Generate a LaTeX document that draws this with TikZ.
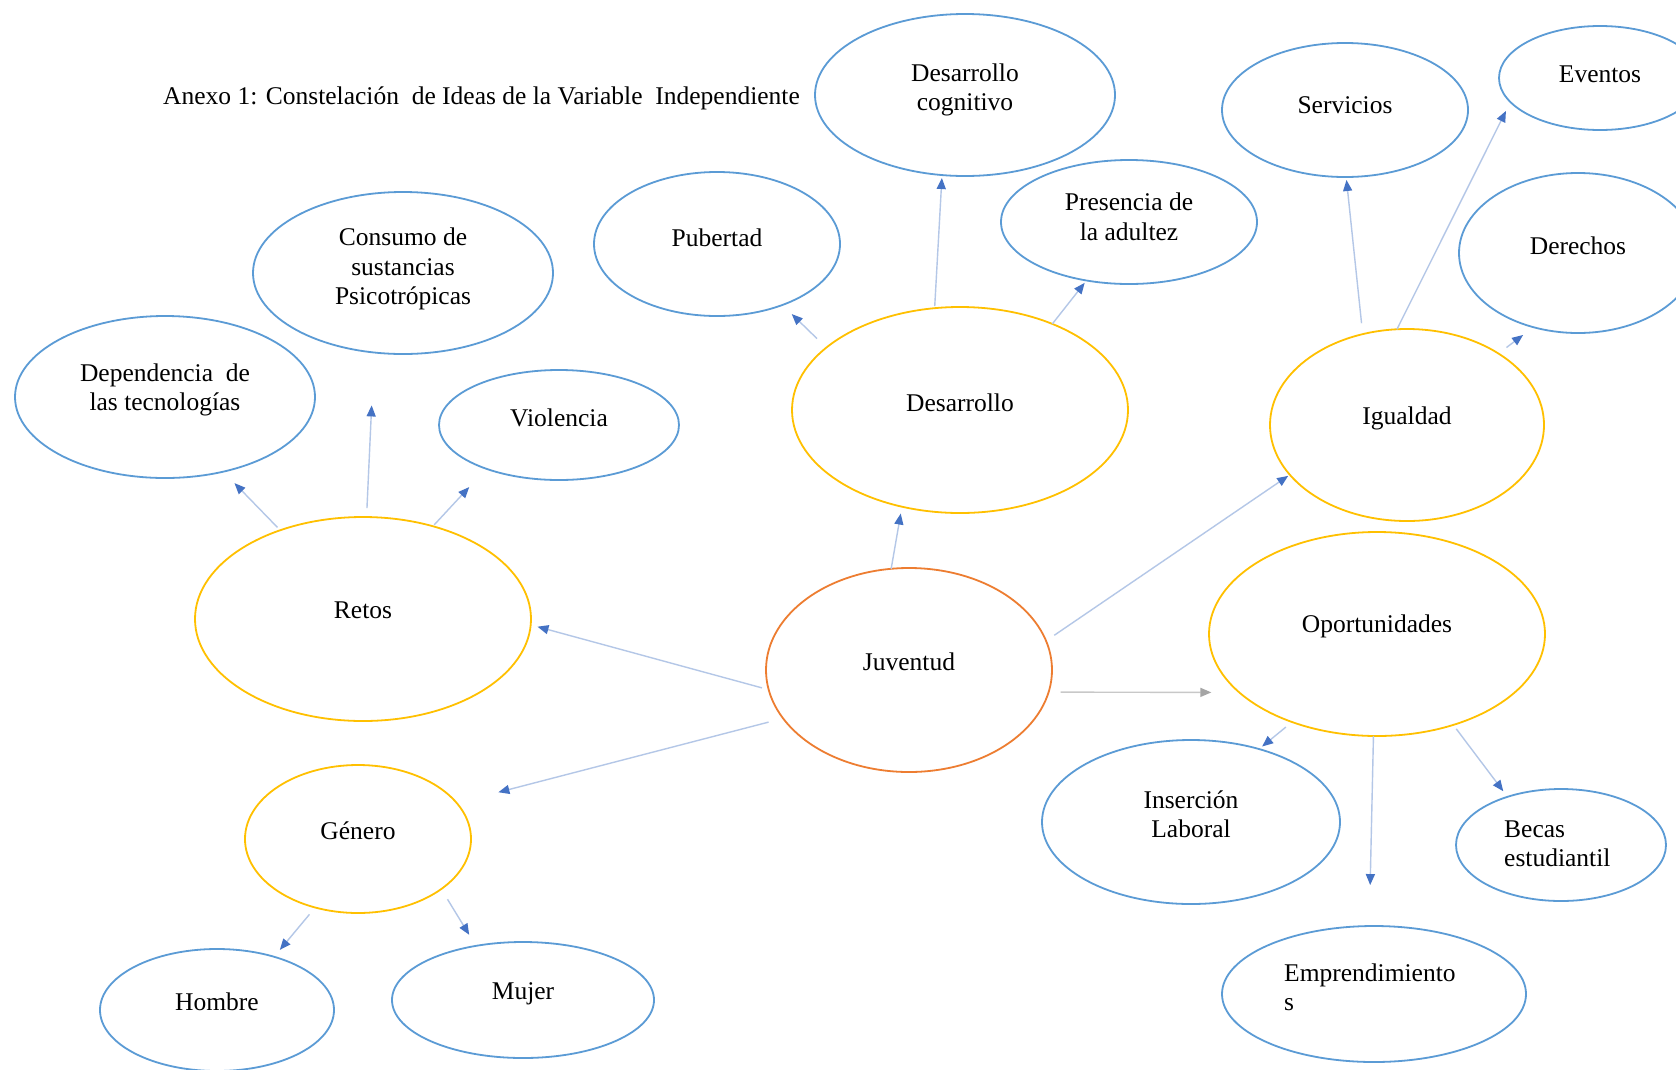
\documentclass[tikz,border=0pt]{standalone}
\usepackage{fontspec}
\setmainfont{Liberation Serif}
\usetikzlibrary{shapes.geometric,arrows.meta}
\definecolor{eblue}{RGB}{91,155,213}
\definecolor{eyellow}{RGB}{255,192,0}
\definecolor{eorange}{RGB}{237,125,49}
\definecolor{linec}{RGB}{180,199,231}
\definecolor{headc}{RGB}{68,114,196}
\definecolor{glinec}{RGB}{200,200,200}
\definecolor{gheadc}{RGB}{165,165,165}
\begin{document}
\begin{tikzpicture}[x=1pt,y=-1pt,
  ell/.style={ellipse,draw,line width=1.8pt,inner sep=0pt,outer sep=0pt},
  bl/.style={ell,draw=eblue},
  yl/.style={ell,draw=eyellow},
  org/.style={ell,draw=eorange},
  txt/.style={font=\fontsize{25.5}{29.5}\selectfont,align=center,inner sep=0pt},
  arr/.style={draw=linec,line width=1.4pt,-{Triangle[length=11pt,width=9pt,color=headc]}},
  garr/.style={draw=glinec,line width=1.4pt,-{Triangle[length=11pt,width=9pt,color=gheadc]}}
]
\useasboundingbox (0,0) rectangle (1676,1069);
\fill[white] (0,0) rectangle (1676,1069);

\node[txt,anchor=west] (title) at (163,98) {Anexo 1: Constelación\ \ de Ideas de la Variable\ \ Independiente};

% ellipses
\node[bl,minimum width=300pt,minimum height=162pt] (descog) at (965,95) {};
\node[bl,minimum width=246pt,minimum height=134pt] (serv) at (1345,110) {};
\node[bl,minimum width=202pt,minimum height=104pt] (event) at (1600,78) {};
\node[bl,minimum width=238pt,minimum height=160pt] (dere) at (1578,253) {};
\node[bl,minimum width=256pt,minimum height=124pt] (pres) at (1129,222) {};
\node[bl,minimum width=246pt,minimum height=144pt] (pub) at (717,244) {};
\node[bl,minimum width=300pt,minimum height=162pt] (cons) at (403,273) {};
\node[bl,minimum width=300pt,minimum height=162pt] (dep) at (165,397) {};
\node[bl,minimum width=240pt,minimum height=110pt] (viol) at (559,425) {};
\node[yl,minimum width=336pt,minimum height=206pt] (des) at (960,410) {};
\node[yl,minimum width=274pt,minimum height=192pt] (igu) at (1407,425) {};
\node[yl,minimum width=336pt,minimum height=204pt] (ret) at (363,619) {};
\node[org,minimum width=286pt,minimum height=204pt] (juv) at (909,670) {};
\node[yl,minimum width=336pt,minimum height=204pt] (opo) at (1377,634) {};
\node[yl,minimum width=226pt,minimum height=148pt] (gen) at (358,839) {};
\node[bl,minimum width=234pt,minimum height=122pt] (hom) at (217,1010) {};
\node[bl,minimum width=262pt,minimum height=116pt] (muj) at (523,1000) {};
\node[bl,minimum width=298pt,minimum height=164pt] (ins) at (1191,822) {};
\node[bl,minimum width=210pt,minimum height=112pt] (bec) at (1561,845) {};
\node[bl,minimum width=304pt,minimum height=136pt] (emp) at (1374,994) {};

% texts
\node[txt,yshift=5pt] (descogT) at (descog.center) {Desarrollo\\cognitivo};
\node[txt,yshift=5pt] (servT) at (serv.center) {Servicios};
\node[txt,yshift=4pt] (eventT) at (event.center) {Eventos};
\node[txt,yshift=7pt] (dereT) at (dere.center) {Derechos};
\node[txt,yshift=5pt] (presT) at (pres.center) {Presencia de\\la adultez};
\node[txt,yshift=6pt] (pubT) at (pub.center) {Pubertad};
\node[txt,yshift=4pt] (consT) at (cons.center) {Consumo de\\sustancias\\Psicotrópicas};
\node[txt,yshift=7pt] (depT) at (dep.center) {Dependencia\ \ de\\las tecnologías};
\node[txt,yshift=7pt] (violT) at (viol.center) {Violencia};
\node[txt,yshift=7pt] (desT) at (des.center) {Desarrollo};
\node[txt,yshift=7pt] (iguT) at (igu.center) {Igualdad};
\node[txt,yshift=9pt] (retT) at (ret.center) {Retos};
\node[txt,yshift=8pt] (juvT) at (juv.center) {Juventud};
\node[txt,yshift=8pt] (opoT) at (opo.center) {Oportunidades};
\node[txt,yshift=8pt] (genT) at (gen.center) {Género};
\node[txt,yshift=8pt] (homT) at (hom.center) {Hombre};
\node[txt,yshift=6pt] (mujT) at (muj.center) {Mujer};
\node[txt,yshift=8pt] (insT) at (ins.center) {Inserción\\Laboral};
\node[txt,align=left,anchor=west,xshift=-57pt,yshift=1pt] (becT) at (bec.center) {Becas\\estudiantil};
\node[txt,align=left,anchor=west,xshift=-90pt,yshift=6.5pt] (empT) at (emp.center) {Emprendimiento\\s};

% connectors
\draw[arr,shorten >=7pt] (juv.100) -- (des.239);
\draw[arr,shorten <=10pt,shorten >=2pt] (juv.12) -- (igu.203);
\draw[garr,shorten <=12pt,shorten >=28pt] (juv.-9) -- (opo.203);
\draw[arr,shorten <=7pt,shorten >=7pt] (juv.188) -- (ret.-2);
\draw[arr,shorten <=15pt,shorten >=43pt] (juv.201) -- (gen.20);
\draw[arr,shorten <=4pt,shorten >=16pt] (ret.133) -- (dep.-52);
\draw[arr,shorten <=9pt,shorten >=53pt] (ret.88) -- (cons.-110);
\draw[arr,shorten <=2pt,shorten >=25pt] (ret.53) -- (viol.211);
\draw[arr,shorten <=13pt,shorten >=13pt] (des.155) -- (pub.-43);
\draw[arr,shorten <=2pt,shorten >=3pt] (des.104) -- (descog.-106);
\draw[arr,shorten >=3pt] (des.43) -- (pres.234);
\draw[arr,shorten <=11pt,shorten >=3pt] (igu.116) -- (serv.-89);
\draw[arr,shorten >=10pt] (igu.96) -- (event.195);
\draw[arr,shorten <=10pt,shorten >=13pt] (igu.38) -- (dere.239);
\draw[arr,shorten <=8pt,shorten >=4pt] (opo.226) -- (ins.47);
\draw[arr,shorten >=41pt] (opo.-92) -- (emp.94);
\draw[arr,shorten <=5pt,shorten >=7pt] (opo.-50) -- (bec.138);
\draw[arr,shorten <=9pt,shorten >=9pt] (gen.238) -- (hom.43);
\draw[arr,shorten <=12pt,shorten >=13pt] (gen.-31) -- (muj.131);
\end{tikzpicture}
\end{document}
